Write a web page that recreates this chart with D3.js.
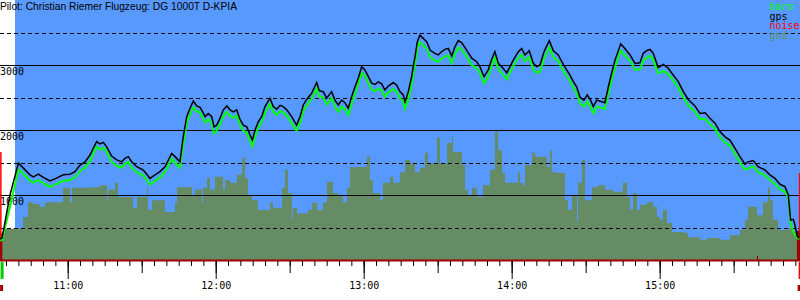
<!DOCTYPE html>
<head>
<meta charset="utf-8">
<script src="https://d3js.org/d3.v7.min.js"></script>
<style>
    body { margin: 0; background: #fff; }
    text { font-family: "DejaVu Sans Mono", monospace; font-size: 10px; }
</style>
</head>
<body>
<script>
const width = 800, height = 300;

// all times are minutes after 10:00
const viewStart = 32.55, viewEnd = 356.9;

const flightTime = [
    32.6, 33.4, 36.6, 40.0, 41.35, 44.7, 46.05, 48.1, 50.1, 52.8,
    55.5, 58.2, 60.9, 62.95, 65.0, 67.0, 69.05, 70.4, 71.75, 73.1,
    74.45, 75.8, 77.8, 79.9, 81.9, 83.2, 84.6, 85.95, 88.0, 90.65,
    92.05, 93.35, 95.4, 97.4, 99.45, 102.15, 103.5, 105.5, 106.85, 108.25,
    109.6, 110.9, 112.3, 113.65, 114.75, 115.7, 117.0, 118.4, 119.3, 120.4,
    121.75, 123.1, 124.5, 125.8, 127.15, 128.5, 129.85, 131.2, 132.6, 133.9,
    134.85, 135.95, 137.3, 138.65, 140.0, 142.0, 143.35, 144.75, 146.1, 147.4,
    148.8, 150.8, 152.8, 154.2, 155.5, 156.9, 158.9, 160.95, 162.0, 163.6,
    165.0, 167.0, 168.35, 169.7, 171.1, 172.4, 173.75, 175.1, 176.5, 177.8,
    179.2, 180.5, 181.9, 183.25, 184.6, 185.9, 187.3, 188.6, 190.0, 192.0,
    193.4, 194.7, 196.05, 196.75, 198.1, 199.45, 200.8, 201.75, 202.8, 204.15,
    205.55, 206.9, 208.9, 210.25, 211.6, 212.95, 214.3, 215.7, 217.0, 218.35,
    219.7, 221.75, 223.8, 225.8, 227.15, 228.8, 230.5, 231.9, 233.2, 234.6,
    235.95, 238.0, 239.3, 240.65, 242.7, 244.05, 245.4, 247.1, 248.8, 250.1,
    251.5, 253.1, 255.25, 256.9, 258.9, 260.3, 262.3, 263.65, 265.0, 266.35,
    267.7, 269.3, 270.65, 272.0, 273.1, 274.5, 276.5, 277.8, 279.2, 280.5,
    281.9, 284.2, 285.9, 288.0, 290.0, 292.0, 293.35, 294.7, 296.1, 297.4,
    299.4, 301.5, 303.5, 305.5, 307.55, 309.6, 311.6, 314.3, 316.35, 318.4,
    320.4, 322.45, 324.45, 326.5, 328.5, 330.5, 332.55, 334.6, 335.9, 337.95,
    339.95, 342.7, 344.7, 346.75, 348.8, 350.8, 352.15, 353.1, 354.2, 354.85,
    355.8, 356.6
];
const gpsAlt = [
    320, 340, 1000, 1490, 1440, 1310, 1280, 1320, 1270, 1215,
    1260, 1310, 1320, 1360, 1460, 1510, 1615, 1720, 1820, 1785,
    1810, 1740, 1600, 1540, 1510, 1565, 1590, 1510, 1435, 1385,
    1320, 1255, 1310, 1360, 1435, 1640, 1590, 1510, 1900, 2205,
    2335, 2445, 2370, 2350, 2280, 2205, 2255, 2205, 2050, 2075,
    2180, 2310, 2370, 2310, 2280, 2310, 2165, 2075, 2050, 1925,
    1845, 2000, 2130, 2205, 2360, 2490, 2360, 2320, 2380, 2360,
    2310, 2205, 2075, 2205, 2385, 2470, 2565, 2730, 2605, 2590,
    2490, 2590, 2460, 2385, 2460, 2420, 2335, 2510, 2665, 2795,
    2975, 2925, 2820, 2720, 2700, 2740, 2710, 2615, 2675, 2730,
    2690, 2590, 2540, 2435, 2590, 2820, 3130, 3360, 3460, 3410,
    3360, 3230, 3180, 3155, 3205, 3240, 3255, 3140, 3280, 3375,
    3345, 3230, 3105, 3050, 2975, 2820, 2925, 3090, 3205, 3025,
    2975, 2880, 2975, 3075, 3205, 3255, 3155, 3220, 3025, 2975,
    3000, 3205, 3375, 3220, 3155, 3050, 2925, 2845, 2745, 2665,
    2505, 2460, 2540, 2460, 2360, 2460, 2435, 2420, 2665, 2870,
    3075, 3325, 3255, 3155, 3025, 3035, 3180, 3220, 3240, 3180,
    2960, 3010, 2950, 2845, 2745, 2590, 2470, 2370, 2255, 2265,
    2180, 2105, 1975, 1895, 1845, 1720, 1590, 1475, 1510, 1530,
    1435, 1385, 1310, 1255, 1165, 1130, 1000, 615, 625, 540,
    360, 335
];
const baroAlt = [
    300, 310, 820, 1390, 1350, 1220, 1190, 1230, 1180, 1125,
    1170, 1220, 1230, 1270, 1370, 1420, 1520, 1640, 1740, 1700,
    1730, 1660, 1510, 1450, 1420, 1480, 1510, 1420, 1350, 1300,
    1230, 1160, 1220, 1270, 1350, 1560, 1500, 1420, 1780, 2110,
    2240, 2350, 2290, 2270, 2190, 2110, 2170, 2110, 1950, 1990,
    2090, 2210, 2280, 2220, 2190, 2220, 2080, 1990, 1960, 1830,
    1750, 1900, 2040, 2120, 2270, 2400, 2280, 2230, 2290, 2270,
    2220, 2110, 1990, 2110, 2290, 2380, 2480, 2640, 2520, 2500,
    2390, 2490, 2360, 2280, 2360, 2320, 2230, 2400, 2560, 2700,
    2880, 2830, 2720, 2620, 2600, 2640, 2610, 2510, 2580, 2630,
    2590, 2490, 2440, 2330, 2470, 2700, 3010, 3250, 3350, 3300,
    3250, 3120, 3070, 3050, 3100, 3130, 3150, 3030, 3170, 3270,
    3240, 3130, 3000, 2950, 2880, 2720, 2820, 2990, 3110, 2930,
    2880, 2780, 2880, 2980, 3110, 3160, 3060, 3120, 2930, 2880,
    2900, 3100, 3270, 3120, 3060, 2950, 2830, 2750, 2650, 2570,
    2410, 2360, 2440, 2360, 2260, 2360, 2340, 2320, 2560, 2770,
    2970, 3220, 3150, 3060, 2930, 2930, 3070, 3110, 3140, 3080,
    2870, 2910, 2860, 2760, 2650, 2500, 2380, 2280, 2170, 2170,
    2090, 2020, 1890, 1810, 1760, 1630, 1500, 1390, 1410, 1440,
    1350, 1300, 1230, 1170, 1090, 1050, 960, 560, 430, 380,
    340, 320
];

// terrain below the track (stepped)
const gndTime = [
    32.55, 34.6, 38.6, 41.9, 43.9, 45.9, 48.8, 50.8, 52.0, 58.1,
    60.9, 61.75, 70.25, 73.1, 75.9, 76.3, 79.2, 80.4, 86.5, 88.1,
    92.15, 92.55, 94.2, 99.45, 103.5, 104.3, 110.4, 111.6, 114.45, 114.85,
    116.5, 117.7, 119.7, 123.0, 123.8, 125.8, 128.6, 130.7, 131.9, 133.1,
    134.7, 137.15, 142.0, 143.2, 146.9, 148.1, 149.3, 150.9, 151.3, 152.95,
    157.4, 159.0, 161.1, 163.5, 165.1, 167.55, 169.6, 171.6, 173.2, 174.45,
    181.3, 182.55, 183.75, 186.6, 187.8, 190.7, 191.9, 194.7, 196.75, 198.8,
    200.8, 202.8, 204.85, 206.1, 209.7, 210.9, 213.8, 215.8, 216.2, 219.85,
    221.1, 222.3, 223.9, 225.9, 228.4, 231.2, 233.2, 234.45, 236.1, 237.3,
    242.55, 243.4, 244.6, 245.4, 248.25, 249.45, 254.3, 255.5, 256.3, 258.4,
    261.6, 262.8, 264.45, 266.5, 266.9, 268.5, 269.7, 272.55, 275.0, 277.8,
    281.05, 285.1, 286.75, 287.95, 289.2, 290.8, 292.0, 294.85, 297.3, 298.9,
    300.1, 301.3, 302.95, 305.0, 309.45, 311.5, 316.35, 319.2, 324.45, 328.5,
    332.55, 334.6, 335.8, 339.45, 341.9, 343.9, 344.7, 345.9, 348.0, 352.0,
    353.65, 355.65, 356.9
];
const gndAlt = [
    420, 480, 490, 660, 890, 860, 820, 880, 890, 1110,
    890, 1110, 1120, 1150, 920, 1080, 1190, 970, 800, 970,
    1120, 770, 920, 740, 890, 1120, 1000, 1080, 880, 1110,
    1260, 1080, 1280, 1080, 1230, 1190, 1310, 1570, 1260, 1000,
    920, 770, 890, 800, 1110, 1390, 1030, 620, 800, 720,
    770, 880, 770, 890, 1200, 1030, 1000, 890, 1110, 1430,
    1590, 1230, 1030, 920, 1190, 1280, 1190, 1350, 1540, 1490,
    1350, 1420, 1650, 1490, 1880, 1490, 1800, 1920, 1660, 1460,
    1080, 1000, 1110, 970, 1150, 1390, 2000, 1690, 1340, 1190,
    1350, 1190, 1150, 1460, 1650, 1590, 1430, 1690, 1350, 1340,
    920, 770, 1000, 590, 1190, 1540, 920, 1120, 1150, 1080,
    1050, 1190, 970, 770, 1030, 770, 850, 890, 820, 660,
    620, 770, 570, 430, 420, 350, 310, 340, 310, 380,
    460, 620, 820, 690, 890, 1110, 920, 620, 460, 490,
    430, 370, 370
];

const noiseTime = [32.55, 33.5, 339.45, 339.9, 355.65, 356.9];
const noiseLevel = [340, 0, 60, 0, 450, 450];
const noisePeakTime = [32.9, 356.75];
const noisePeak = [1660, 1340];
const takeoffTime = 33.4, landingTime = 356.75;

const altGrid = [500, 1000, 1500, 2000, 2500, 3000, 3500];
const altLabels = [1000, 2000, 3000];
const title = "Pilot: Christian Riemer Flugzeug: DG 1000T D-KPIA";
const legendNames = ["baro", "gps", "noise", "gnd"];
const legendColors = ["#00ff00", "#000000", "#ff0000", "#658c64"];

const x = d3.scaleLinear().domain([viewStart, viewEnd]).range([0, width]);
const y = d3.scaleLinear().domain([0, 4000]).range([260, 0]);

const svg = d3.select("body").append("svg")
    .attr("width", width)
    .attr("height", height);

// sky
svg.append("rect")
    .attr("x", 15).attr("y", 0)
    .attr("width", width - 15).attr("height", y(0))
    .attr("fill", "#5899ff");

// ground
const gi = d3.range(gndTime.length);
svg.append("path")
    .attr("d", d3.area().curve(d3.curveStepAfter)
        .x(i => x(gndTime[i])).y0(y(0)).y1(i => y(gndAlt[i]))(gi))
    .attr("fill", "#658c64");

// grid
altGrid.forEach(v => {
    svg.append("line")
        .attr("x1", 0).attr("x2", width)
        .attr("y1", Math.round(y(v)) + 0.5).attr("y2", Math.round(y(v)) + 0.5)
        .attr("stroke", "#000")
        .attr("stroke-width", 1)
        .attr("stroke-dasharray", v % 1000 ? "4,3" : null)
        .attr("shape-rendering", "crispEdges");
});
altLabels.forEach(v => {
    svg.append("text")
        .attr("x", 0).attr("y", y(v) + 10)
        .text(v);
});

// noise
svg.selectAll(".peak").data(d3.range(noisePeak.length)).enter().append("line")
    .attr("x1", i => x(noisePeakTime[i])).attr("x2", i => x(noisePeakTime[i]))
    .attr("y1", y(0)).attr("y2", i => y(noisePeak[i]))
    .attr("stroke", "#ff0000").attr("stroke-width", 1.5);
const ni = d3.range(noiseTime.length);
svg.append("path")
    .attr("d", d3.area().curve(d3.curveStepAfter)
        .x(i => x(noiseTime[i])).y0(y(0)).y1(i => y(noiseLevel[i]))(ni))
    .attr("fill", "#a00000");
svg.append("line")
    .attr("x1", 0).attr("x2", width)
    .attr("y1", y(0) + 0.5).attr("y2", y(0) + 0.5)
    .attr("stroke", "#a00000").attr("stroke-width", 2);

// tracks
const fi = d3.range(flightTime.length);
svg.append("path")
    .attr("d", d3.line().x(i => x(flightTime[i])).y(i => y(baroAlt[i]))(fi))
    .attr("fill", "none").attr("stroke", "#00ff00").attr("stroke-width", 2);
svg.append("path")
    .attr("d", d3.line().x(i => x(flightTime[i])).y(i => y(gpsAlt[i]))(fi))
    .attr("fill", "none").attr("stroke", "#000").attr("stroke-width", 1.5);

// time axis
const fmt = m => (10 + Math.floor(m / 60)) + ":" + d3.format("02")(m % 60);
const axisG = svg.append("g").attr("transform", "translate(0," + (y(0) + 1) + ")");
[[d3.range(35, viewEnd, 5), 5], [d3.range(60, viewEnd, 30), 12], [d3.range(60, viewEnd, 60), 18]]
    .forEach(([vals, len], k) => {
        const a = d3.axisBottom(x).tickValues(vals).tickSize(len).tickPadding(3)
            .tickFormat(k === 2 ? fmt : "");
        const g = axisG.append("g").call(a);
        g.select(".domain").remove();
        g.selectAll("text").attr("font-family", "DejaVu Sans Mono").attr("font-size", 10).attr("fill", "#000");
    });

// takeoff / landing markers
svg.append("rect").attr("x", x(takeoffTime) - 1.5).attr("y", 262).attr("width", 3).attr("height", 17).attr("fill", "#00cc00");
svg.append("rect").attr("x", x(landingTime) - 1).attr("y", 262).attr("width", 3).attr("height", 17).attr("fill", "#ff0000");
[takeoffTime, landingTime].forEach(t => {
    svg.append("rect").attr("x", x(t) - 2).attr("y", 285).attr("width", 3).attr("height", 6).attr("fill", "#a00000");
});

// title + legend
svg.append("text")
    .attr("x", 0).attr("y", 10)
    .attr("textLength", 237)
    .attr("lengthAdjust", "spacingAndGlyphs")
    .style("font-family", "'Liberation Sans', Arial, sans-serif")
    .style("font-size", "10.3px")
    .text(title);
legendNames.forEach((n, i) => {
    svg.append("text")
        .attr("x", 769.5).attr("y", 10 + i * 9.5)
        .attr("fill", legendColors[i])
        .text(n);
});
</script>
</body>
